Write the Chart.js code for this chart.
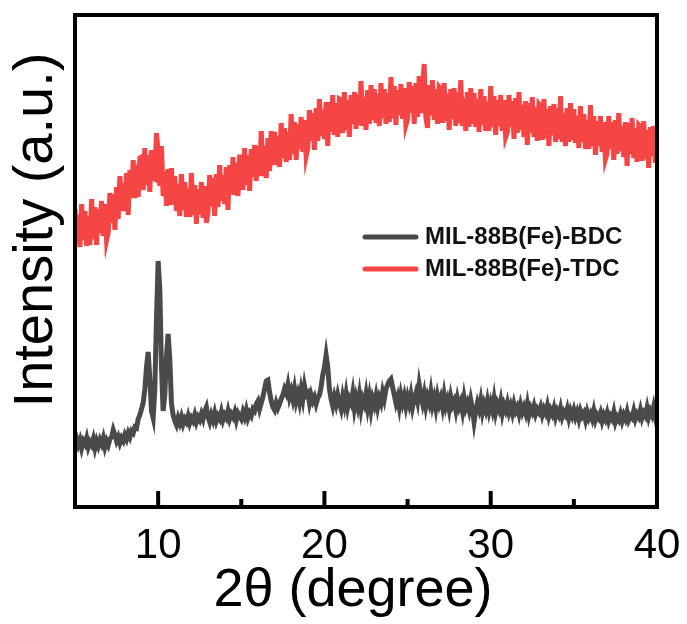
<!DOCTYPE html>
<html>
<head>
<meta charset="utf-8">
<script src="https://cdn.jsdelivr.net/npm/chart.js@4"></script>
<style>
  html, body { margin: 0; padding: 0; background: #fff; }
</style>
</head>
<body>
<canvas id="xrd" width="687" height="624"></canvas>
<script>
// 2theta grid, 0.1 degree step from 5 to 40
const twoTheta = Array.from({ length: 351 }, (_, i) => +(5 + i * 0.1).toFixed(1));

// MIL-88B(Fe)-TDC (arbitrary units), one row = 2 degrees
const tdcIntensity = [
  298, 264, 292, 260, 303, 267, 296, 261, 291, 262, 308, 268, 300, 262, 298, 274, 306, 271, 303, 267,
  275, 314, 284, 313, 277, 320, 288, 331, 296, 324, 296, 334, 292, 337, 309, 347, 309, 342, 310, 349,
  350, 317, 359, 322, 352, 315, 357, 329, 328, 374, 356, 321, 361, 311, 336, 301, 338, 302, 339, 302,
  331, 296, 323, 291, 333, 297, 325, 290, 319, 290, 334, 292, 322, 283, 318, 293, 325, 289, 321, 284,
  295, 332, 301, 329, 291, 333, 300, 342, 306, 332, 303, 340, 297, 342, 313, 350, 312, 344, 311, 350,
  350, 317, 359, 322, 352, 316, 358, 330, 362, 326, 361, 331, 376, 331, 361, 329, 369, 336, 376, 342,
  375, 342, 371, 340, 384, 349, 379, 345, 375, 347, 393, 353, 385, 347, 383, 358, 390, 355, 387, 351,
  359, 397, 366, 394, 357, 399, 366, 408, 371, 397, 368, 405, 361, 405, 375, 412, 372, 404, 370, 408,
  407, 374, 415, 377, 407, 370, 412, 383, 415, 378, 413, 382, 426, 381, 410, 377, 417, 383, 422, 387,
  418, 384, 413, 381, 424, 389, 418, 383, 414, 385, 430, 389, 421, 382, 417, 392, 423, 388, 419, 382,
  388, 425, 394, 421, 383, 424, 390, 431, 394, 419, 443, 390, 379, 422, 392, 427, 387, 418, 383, 420,
  418, 384, 424, 386, 414, 377, 418, 388, 419, 381, 415, 384, 427, 381, 409, 376, 415, 380, 419, 383,
  414, 380, 408, 375, 418, 382, 411, 376, 405, 376, 421, 380, 411, 372, 407, 381, 412, 376, 407, 370,
  375, 412, 380, 406, 368, 409, 374, 415, 377, 402, 370, 406, 362, 404, 374, 410, 370, 400, 366, 403,
  401, 367, 408, 369, 398, 361, 401, 372, 403, 365, 399, 368, 411, 365, 394, 361, 399, 365, 404, 367,
  398, 364, 391, 359, 401, 365, 393, 358, 387, 358, 402, 361, 391, 352, 386, 361, 391, 355, 385, 348,
  354, 391, 358, 385, 347, 387, 353, 394, 356, 381, 350, 385, 341, 384, 353, 389, 349, 379, 345, 382,
  380, 346, 386, 348, 377, 339, 380, 351, 381, 344, 378
];

// MIL-88B(Fe)-BDC
const bdcIntensity = [
  60, 68, 62, 67, 59, 66, 63, 69, 60, 65, 62, 68, 59, 66, 61, 67, 63, 69, 60, 66,
  62, 68, 70, 77, 72, 66, 70, 64, 69, 66, 72, 68, 74, 70, 76, 74, 80, 79, 88, 92,
  98, 104, 118, 140, 155, 128, 96, 89, 118, 188, 246, 218, 140, 96, 112, 150, 173, 148, 104, 92,
  86, 82, 89, 84, 90, 83, 88, 85, 91, 84, 89, 86, 92, 85, 90, 87, 93, 88, 96, 100,
  90, 85, 92, 87, 94, 86, 91, 88, 95, 87, 92, 89, 96, 88, 93, 90, 95, 87, 94, 91,
  88, 95, 90, 97, 89, 94, 91, 98, 96, 103, 106, 98, 104, 110, 118, 126, 127, 115, 106, 100,
  97, 104, 99, 103, 108, 112, 118, 114, 122, 110, 116, 108, 118, 106, 113, 105, 117, 108, 121, 112,
  114, 104, 112, 106, 110, 103, 109, 112, 120, 132, 140, 152, 140, 118, 108, 101, 110, 103, 112, 104,
  98, 110, 102, 113, 100, 108, 104, 114, 99, 109, 101, 112, 98, 108, 103, 113, 100, 110, 97, 108,
  102, 111, 100, 109, 104, 115, 108, 118, 122, 126, 128, 120, 112, 104, 110, 100, 112, 104, 111, 101,
  110, 103, 112, 100, 108, 114, 106, 122, 112, 104, 113, 101, 110, 104, 115, 102, 109, 99, 111, 103,
  109, 100, 112, 101, 107, 98, 110, 102, 106, 97, 108, 100, 105, 96, 109, 99, 104, 97, 107, 98,
  85, 96, 104, 98, 107, 95, 103, 97, 106, 96, 104, 97, 108, 95, 103, 98, 106, 94, 102, 97,
  104, 95, 101, 94, 103, 96, 100, 93, 102, 95, 100, 94, 103, 92, 99, 95, 101, 93, 98, 95,
  100, 92, 98, 94, 101, 91, 97, 93, 99, 90, 96, 92, 99, 90, 95, 92, 98, 89, 96, 91,
  97, 90, 95, 88, 96, 91, 94, 87, 95, 89, 93, 88, 96, 87, 92, 89, 94, 86, 92, 88,
  94, 86, 91, 88, 95, 85, 90, 87, 93, 86, 92, 88, 95, 87, 91, 89, 96, 88, 93, 90,
  97, 89, 94, 91, 99, 90, 96, 92, 100, 91, 97
];

const seriesLabels = ["MIL-88B(Fe)-BDC", "MIL-88B(Fe)-TDC"];
const seriesColors = ["#4a4a4a", "#f54545"];
const xTitle = "2θ (degree)";
const yTitle = "Intensity (a.u.)";

const toPoints = (values) => values.map((v, i) => ({ x: twoTheta[i], y: v }));

// frame, inward ticks, axis titles and legend
const decorations = {
  id: "decorations",
  afterDatasetsDraw(chart) {
    const { ctx, chartArea: a, scales } = chart;
    const x = scales.x;
    ctx.save();
    ctx.strokeStyle = "#000";
    ctx.lineWidth = 4;
    ctx.strokeRect(a.left, a.top, a.right - a.left, a.bottom - a.top);

    x.ticks.forEach((t) => {
      if (t.value <= x.min || t.value >= x.max) return;
      const px = x.getPixelForValue(t.value);
      const len = t.value % 10 === 0 ? 16 : 8;
      ctx.beginPath();
      ctx.moveTo(px, a.bottom);
      ctx.lineTo(px, a.bottom - len);
      ctx.stroke();
    });

    ctx.fillStyle = "#000";
    ctx.textAlign = "center";
    ctx.textBaseline = "middle";

    // x axis title
    ctx.font = "54px 'Liberation Sans', Arial, sans-serif";
    ctx.fillText(xTitle, 353, 591);

    // y axis title
    ctx.save();
    ctx.translate(37, 230);
    ctx.rotate(-Math.PI / 2);
    ctx.font = "56px 'Liberation Sans', Arial, sans-serif";
    ctx.fillText(yTitle, 0, 0);
    ctx.restore();

    // legend
    ctx.font = "bold 24px 'Liberation Sans', Arial, sans-serif";
    ctx.textAlign = "left";
    chart.data.datasets.forEach((ds, i) => {
      const ly = 237 + i * 32;
      ctx.strokeStyle = ds.borderColor;
      ctx.lineWidth = 5;
      ctx.lineCap = "round";
      ctx.beginPath();
      ctx.moveTo(365, ly);
      ctx.lineTo(416, ly);
      ctx.stroke();
      ctx.fillStyle = "#111";
      ctx.fillText(ds.label, 425, ly);
    });
    ctx.restore();
  },
};

new Chart(document.getElementById("xrd"), {
  type: "line",
  data: {
    datasets: [
      {
        label: seriesLabels[0],
        data: toPoints(bdcIntensity),
        borderColor: seriesColors[0],
        borderWidth: 5,
        pointRadius: 0,
        tension: 0,
      },
      {
        label: seriesLabels[1],
        data: toPoints(tdcIntensity),
        borderColor: seriesColors[1],
        borderWidth: 5,
        pointRadius: 0,
        tension: 0,
      },
    ],
  },
  options: {
    responsive: false,
    animation: false,
    layout: { padding: { left: 75, right: 30, top: 15, bottom: 4 } },
    scales: {
      x: {
        type: "linear",
        min: 5,
        max: 40,
        grid: { display: false, drawTicks: false },
        border: { display: false },
        afterFit: (scale) => {
          scale.height = 113;
          scale.paddingLeft = 0;
          scale.paddingRight = 0;
        },
        ticks: {
          stepSize: 5,
          padding: 18,
          maxRotation: 0,
          color: "#000",
          font: { family: "'Liberation Sans', Arial", size: 42, lineHeight: 1 },
          callback: (v) => (v % 10 === 0 ? v : ""),
        },
      },
      y: {
        display: false,
        min: 0,
        max: 492,
      },
    },
    plugins: {
      legend: { display: false },
      tooltip: { enabled: false },
    },
  },
  plugins: [decorations],
});
</script>
</body>
</html>
